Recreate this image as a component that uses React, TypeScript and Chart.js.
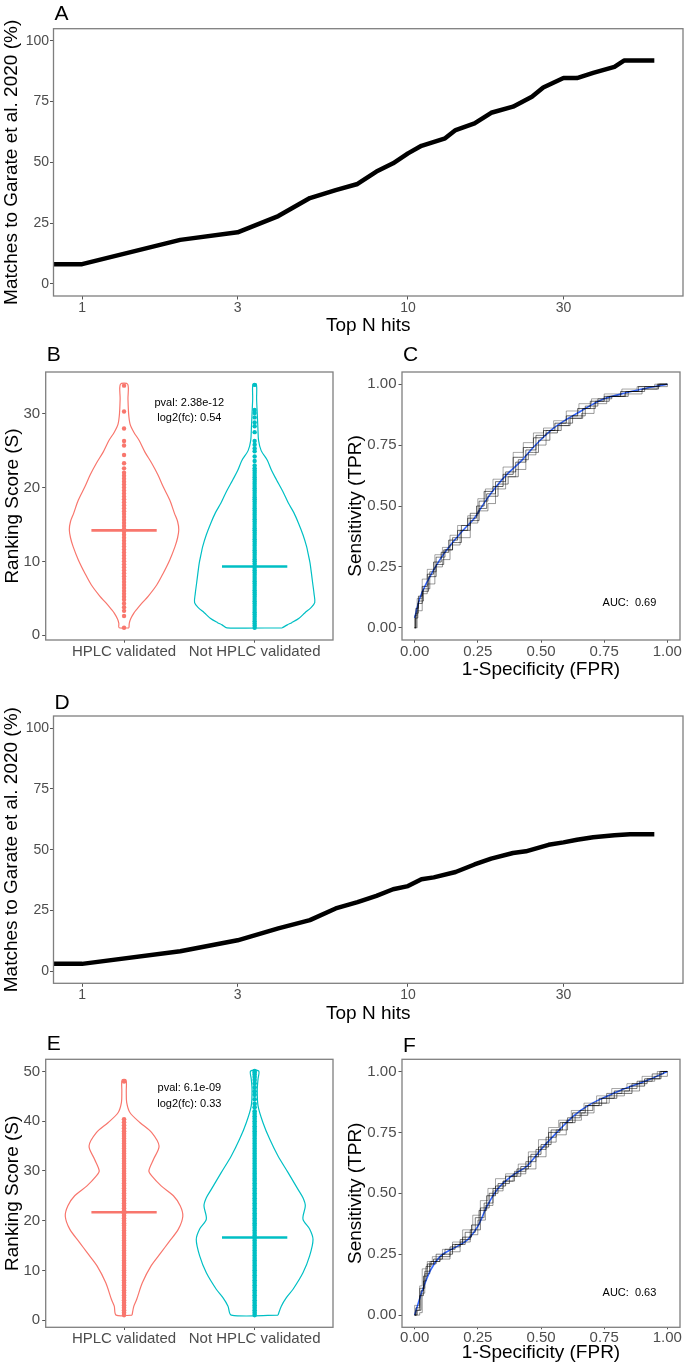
import React, { useEffect, useRef } from 'react';
import { Chart, registerables } from 'chart.js';
Chart.register(...registerables);

const FONT = '"Liberation Sans", Arial, Helvetica, sans-serif';
const TICK_COLOR = '#4D4D4D';
const BOX_COLOR = '#7F7F7F';
const RED = '#F8766D';
const TEAL = '#00BFC4';
const BLUE = '#3366FF';

// ---------- Panels A and D: matches vs top N hits ----------
const LOG_TICKS = [1, 3, 10, 30];
const PCT_TICKS = [0, 25, 50, 75, 100];
const A_TOPN = [0.817, 1, 2, 3, 4, 5, 6, 7, 8, 9, 10, 11, 13, 14, 16, 18, 21, 24, 26, 30, 33, 37, 43, 46, 57];
const A_MATCH = [8.1, 8.1, 18.1, 21.2, 27.9, 35.3, 38.6, 41.1, 46.2, 49.6, 53.7, 56.8, 59.9, 63.3, 66.0, 70.4, 72.9, 77.0, 80.8, 84.7, 84.7, 86.8, 89.3, 91.9, 91.9];
const D_TOPN = [0.817, 1, 2, 3, 4, 5, 6, 7, 8, 9, 10, 11, 12, 14, 16, 18, 21, 23, 27, 30, 33, 37, 43, 48, 57];
const D_MATCH = [3.0, 3.0, 8.2, 12.7, 17.6, 21.0, 25.8, 28.4, 31.0, 33.7, 35.0, 37.8, 38.6, 40.8, 43.9, 46.3, 48.6, 49.3, 52.0, 53.0, 54.1, 55.1, 55.9, 56.3, 56.3];

// ---------- Panels B and E: violins ----------
const GROUPS = ['HPLC validated', 'Not HPLC validated'];
const B_TICKS = [0, 10, 20, 30];
const E_TICKS = [0, 10, 20, 30, 40, 50];
// [score, half-width in group units]
const B_HPLC_VIOLIN = [[1.0, 0.038], [1.6, 0.04], [2.2, 0.05], [3.0, 0.075], [3.5, 0.097], [4.4, 0.14], [5.3, 0.186], [6.8, 0.25], [8.4, 0.30], [10.2, 0.35], [12.0, 0.39], [13.2, 0.41], [14.3, 0.419], [15.4, 0.41], [16.5, 0.386], [18.3, 0.35], [20.1, 0.30], [21.7, 0.26], [23.3, 0.212], [24.8, 0.16], [26.4, 0.115], [27.5, 0.075], [28.6, 0.046], [30.0, 0.035], [32.0, 0.03], [34.0, 0.028]];
const B_NOT_VIOLIN = [[1.0, 0.212], [1.4, 0.25], [1.7, 0.284], [2.3, 0.34], [3.05, 0.386], [3.7, 0.43], [4.4, 0.46], [5.6, 0.455], [7.1, 0.444], [8.5, 0.434], [9.8, 0.424], [11.0, 0.41], [12.0, 0.398], [13.6, 0.37], [15.2, 0.335], [16.6, 0.30], [17.9, 0.258], [19.5, 0.215], [21.0, 0.169], [22.3, 0.13], [23.7, 0.097], [25.0, 0.05], [26.4, 0.03], [28.0, 0.025], [30.0, 0.02], [32.0, 0.015], [34.0, 0.013]];
const B_MEDIANS = [14.2, 9.3];
const B_HPLC_DOTS = [1.0, 2.6, 3.3, 3.8, 4.3, 4.8, 5.2, 5.6, 6.0, 6.4, 6.8, 7.2, 7.6, 8.0, 8.4, 8.8, 9.2, 9.6, 10.0, 10.4, 10.8, 11.2, 11.6, 12.0, 12.4, 12.8, 13.2, 13.6, 14.0, 14.4, 14.8, 15.2, 15.6, 16.0, 16.4, 16.8, 17.2, 17.6, 18.0, 18.4, 18.8, 19.2, 19.6, 20.0, 20.4, 20.8, 21.2, 21.6, 22.0, 22.6, 23.3, 24.4, 25.7, 26.3, 28.0, 30.3, 33.8];
const B_NOT_DOTS = [1.0, 1.3, 1.6, 1.9, 2.2, 2.5, 2.8, 3.1, 3.4, 3.7, 4.0, 4.3, 4.6, 4.9, 5.2, 5.5, 5.8, 6.1, 6.4, 6.7, 7.0, 7.3, 7.6, 7.9, 8.2, 8.5, 8.8, 9.1, 9.4, 9.7, 10.0, 10.3, 10.6, 10.9, 11.2, 11.5, 11.8, 12.1, 12.4, 12.7, 13.0, 13.3, 13.6, 13.9, 14.2, 14.5, 14.8, 15.1, 15.4, 15.7, 16.0, 16.3, 16.6, 16.9, 17.2, 17.5, 17.8, 18.1, 18.4, 18.7, 19.0, 19.3, 19.6, 19.9, 20.2, 20.5, 20.8, 21.1, 21.4, 21.7, 22.0, 22.3, 22.6, 23.0, 23.6, 24.2, 24.9, 25.3, 25.8, 26.3, 27.5, 28.3, 28.8, 29.5, 30.1, 30.5, 33.9];

const E_HPLC_VIOLIN = [[1.0, 0.061], [2.8, 0.075], [4.2, 0.097], [7.5, 0.14], [10.9, 0.207], [13.6, 0.284], [15.6, 0.34], [18.3, 0.416], [20.9, 0.45], [23.0, 0.43], [25.0, 0.378], [27.0, 0.284], [29.0, 0.212], [30.0, 0.19], [32.3, 0.225], [35.0, 0.268], [37.7, 0.212], [39.7, 0.123], [41.7, 0.046], [43.8, 0.02], [46.0, 0.017], [48.3, 0.015]];
const E_NOT_VIOLIN = [[1.0, 0.179], [2.8, 0.204], [4.5, 0.243], [6.2, 0.294], [9.5, 0.37], [12.9, 0.421], [16.2, 0.447], [18.3, 0.421], [20.3, 0.37], [23.0, 0.388], [24.6, 0.37], [26.3, 0.332], [29.7, 0.255], [33.0, 0.179], [36.4, 0.115], [39.7, 0.064], [43.1, 0.026], [46.4, 0.02], [48.5, 0.026], [50.1, 0.031]];
const E_MEDIANS = [21.7, 16.6];
const E_HPLC_DOTS = [1, 1.5, 2, 2.5, 3, 3.5, 4, 4.5, 5, 5.5, 6, 6.5, 7, 7.5, 8, 8.5, 9, 9.5, 10, 10.5, 11, 11.5, 12, 12.5, 13, 13.5, 14, 14.5, 15, 15.5, 16, 16.5, 17, 17.5, 18, 18.5, 19, 19.5, 20, 20.5, 21, 21.5, 22, 22.5, 23, 23.5, 24, 24.5, 25, 25.5, 26, 26.5, 27, 27.5, 28, 28.5, 29, 29.5, 30, 30.5, 31, 31.5, 32, 32.5, 33, 33.5, 34, 34.5, 35, 35.5, 36, 36.5, 37, 37.5, 38, 38.6, 39.2, 39.8, 40.4, 48.0];
const E_NOT_DOTS = [1, 1.5, 2, 2.5, 3, 3.5, 4, 4.5, 5, 5.5, 6, 6.5, 7, 7.5, 8, 8.5, 9, 9.5, 10, 10.5, 11, 11.5, 12, 12.5, 13, 13.5, 14, 14.5, 15, 15.5, 16, 16.5, 17, 17.5, 18, 18.5, 19, 19.5, 20, 20.5, 21, 21.5, 22, 22.5, 23, 23.5, 24, 24.5, 25, 25.5, 26, 26.5, 27, 27.5, 28, 28.5, 29, 29.5, 30, 30.5, 31, 31.5, 32, 32.5, 33, 33.5, 34, 34.5, 35, 35.5, 36, 36.5, 37, 37.5, 38, 38.5, 39, 39.5, 40, 40.5, 41, 41.5, 42, 42.8, 43.5, 44.4, 45.3, 46.0, 46.8, 47.6, 48.3, 48.9, 49.4, 49.8, 50.1];

// ---------- Panels C and F: ROC curves ----------
const ROC_TICKS = [0, 0.25, 0.5, 0.75, 1];
const C_SMOOTH = [[0, 0.04], [0.02, 0.12], [0.05, 0.19], [0.1, 0.28], [0.15, 0.35], [0.2, 0.41], [0.234, 0.447], [0.28, 0.52], [0.326, 0.584], [0.37, 0.635], [0.418, 0.681], [0.46, 0.73], [0.497, 0.77], [0.55, 0.82], [0.6, 0.855], [0.65, 0.885], [0.7, 0.915], [0.75, 0.94], [0.8, 0.955], [0.9, 0.98], [1, 1]];
const C_RUN1 = [[0, 0], [0.01, 0.08], [0.02, 0.13], [0.04, 0.17], [0.06, 0.22], [0.09, 0.27], [0.12, 0.31], [0.15, 0.36], [0.19, 0.40], [0.23, 0.45], [0.26, 0.50], [0.29, 0.56], [0.33, 0.58], [0.37, 0.63], [0.41, 0.70], [0.45, 0.74], [0.49, 0.78], [0.53, 0.81], [0.58, 0.84], [0.62, 0.87], [0.67, 0.90], [0.72, 0.93], [0.78, 0.95], [0.85, 0.97], [0.92, 0.99], [1, 1]];
const C_RUN2 = [[0, 0], [0.01, 0.05], [0.03, 0.12], [0.05, 0.20], [0.08, 0.24], [0.11, 0.30], [0.14, 0.33], [0.17, 0.38], [0.21, 0.42], [0.25, 0.46], [0.28, 0.53], [0.31, 0.57], [0.35, 0.61], [0.39, 0.66], [0.43, 0.72], [0.47, 0.76], [0.51, 0.80], [0.55, 0.82], [0.60, 0.85], [0.65, 0.89], [0.70, 0.92], [0.75, 0.94], [0.82, 0.96], [0.88, 0.98], [0.95, 0.99], [1, 1]];
const C_RUN3 = [[0, 0], [0.005, 0.04], [0.02, 0.10], [0.04, 0.15], [0.07, 0.21], [0.10, 0.26], [0.13, 0.32], [0.17, 0.35], [0.20, 0.42], [0.24, 0.44], [0.27, 0.49], [0.30, 0.55], [0.34, 0.60], [0.38, 0.64], [0.42, 0.68], [0.46, 0.73], [0.50, 0.79], [0.54, 0.80], [0.59, 0.83], [0.64, 0.86], [0.69, 0.90], [0.74, 0.93], [0.80, 0.95], [0.87, 0.97], [0.93, 0.98], [1, 1]];
const C_RUN4 = [[0, 0], [0.01, 0.07], [0.03, 0.14], [0.05, 0.18], [0.08, 0.25], [0.11, 0.28], [0.14, 0.34], [0.18, 0.37], [0.22, 0.43], [0.25, 0.48], [0.29, 0.51], [0.32, 0.57], [0.36, 0.62], [0.40, 0.65], [0.44, 0.71], [0.48, 0.75], [0.52, 0.81], [0.57, 0.83], [0.61, 0.86], [0.66, 0.88], [0.71, 0.92], [0.76, 0.95], [0.83, 0.96], [0.90, 0.98], [0.96, 0.99], [1, 1]];
const C_RUN5 = [[0, 0], [0.01, 0.06], [0.02, 0.11], [0.05, 0.16], [0.07, 0.23], [0.10, 0.29], [0.14, 0.32], [0.16, 0.37], [0.20, 0.40], [0.24, 0.47], [0.27, 0.52], [0.31, 0.54], [0.35, 0.59], [0.39, 0.62], [0.43, 0.69], [0.47, 0.72], [0.51, 0.77], [0.56, 0.81], [0.60, 0.84], [0.65, 0.87], [0.70, 0.91], [0.75, 0.94], [0.81, 0.95], [0.88, 0.97], [0.94, 0.99], [1, 1]];

const F_SMOOTH = [[0, 0], [0.03, 0.10], [0.063, 0.185], [0.10, 0.24], [0.155, 0.275], [0.21, 0.31], [0.25, 0.364], [0.286, 0.446], [0.326, 0.515], [0.392, 0.577], [0.444, 0.611], [0.5, 0.68], [0.562, 0.749], [0.628, 0.817], [0.694, 0.865], [0.75, 0.893], [0.825, 0.927], [0.917, 0.962], [1, 1]];
const F_RUN1 = [[0, 0], [0.02, 0.02], [0.03, 0.10], [0.04, 0.16], [0.06, 0.21], [0.09, 0.23], [0.13, 0.25], [0.17, 0.29], [0.21, 0.32], [0.24, 0.37], [0.27, 0.43], [0.30, 0.49], [0.34, 0.53], [0.38, 0.57], [0.43, 0.60], [0.47, 0.65], [0.51, 0.69], [0.55, 0.75], [0.60, 0.79], [0.65, 0.83], [0.70, 0.86], [0.76, 0.89], [0.82, 0.92], [0.88, 0.94], [0.94, 0.97], [1, 1]];
const F_RUN2 = [[0, 0], [0.02, 0.04], [0.03, 0.12], [0.05, 0.19], [0.07, 0.22], [0.11, 0.24], [0.15, 0.27], [0.19, 0.30], [0.23, 0.35], [0.26, 0.41], [0.29, 0.47], [0.32, 0.52], [0.36, 0.56], [0.41, 0.58], [0.45, 0.62], [0.49, 0.67], [0.53, 0.72], [0.57, 0.77], [0.62, 0.80], [0.67, 0.84], [0.72, 0.87], [0.78, 0.90], [0.84, 0.93], [0.90, 0.95], [0.96, 0.98], [1, 1]];
const F_RUN3 = [[0, 0], [0.01, 0.03], [0.03, 0.08], [0.04, 0.14], [0.05, 0.20], [0.08, 0.22], [0.12, 0.24], [0.16, 0.28], [0.20, 0.31], [0.24, 0.35], [0.28, 0.44], [0.31, 0.50], [0.35, 0.54], [0.40, 0.57], [0.44, 0.61], [0.48, 0.66], [0.52, 0.70], [0.56, 0.76], [0.61, 0.79], [0.66, 0.82], [0.71, 0.86], [0.77, 0.89], [0.83, 0.91], [0.89, 0.95], [0.95, 0.97], [1, 1]];
const F_RUN4 = [[0, 0], [0.02, 0.01], [0.03, 0.09], [0.04, 0.17], [0.06, 0.22], [0.10, 0.23], [0.14, 0.26], [0.18, 0.30], [0.22, 0.33], [0.25, 0.39], [0.28, 0.45], [0.31, 0.51], [0.35, 0.55], [0.39, 0.58], [0.44, 0.60], [0.48, 0.65], [0.52, 0.71], [0.56, 0.74], [0.60, 0.80], [0.66, 0.83], [0.71, 0.87], [0.77, 0.90], [0.83, 0.92], [0.89, 0.96], [0.95, 0.98], [1, 1]];
const F_RUN5 = [[0, 0], [0.01, 0.02], [0.03, 0.11], [0.05, 0.18], [0.07, 0.21], [0.10, 0.25], [0.14, 0.27], [0.18, 0.29], [0.22, 0.34], [0.26, 0.40], [0.29, 0.46], [0.33, 0.52], [0.37, 0.55], [0.42, 0.59], [0.46, 0.63], [0.50, 0.68], [0.54, 0.73], [0.58, 0.76], [0.63, 0.81], [0.68, 0.84], [0.73, 0.87], [0.79, 0.91], [0.85, 0.93], [0.91, 0.96], [0.97, 0.99], [1, 1]];

// ---------- geometry ----------
type Geo = { cx: number; cy: number; cw: number; ch: number; l: number; t: number; r: number; b: number };
const GEO: Record<string, Geo> = {
  A: { cx: 0, cy: 0, cw: 685, ch: 340, l: 53.5, t: 28.7, r: 683, b: 296 },
  B: { cx: 0, cy: 340, cw: 340, ch: 330, l: 45.7, t: 372, r: 333, b: 640 },
  C: { cx: 340, cy: 340, cw: 345, ch: 345, l: 402, t: 372, r: 680, b: 640 },
  D: { cx: 0, cy: 685, cw: 685, ch: 345, l: 53.5, t: 716, r: 683, b: 983.3 },
  E: { cx: 0, cy: 1030, cw: 340, ch: 341, l: 45.7, t: 1059.3, r: 333, b: 1327.3 },
  F: { cx: 340, cy: 1030, cw: 345, ch: 341, l: 402, t: 1059.3, r: 680, b: 1327.3 },
};

function decorPlugin(letter: string, letterY: number, notes: { text: string; x: number; y: number }[]) {
  return {
    id: 'decor',
    afterDatasetsDraw(chart: any) {
      const { ctx, chartArea: a } = chart;
      ctx.save();
      ctx.strokeStyle = BOX_COLOR;
      ctx.lineWidth = 1.3;
      ctx.strokeRect(a.left, a.top, a.right - a.left, a.bottom - a.top);
      ctx.fillStyle = '#000';
      ctx.textBaseline = 'middle';
      ctx.textAlign = 'left';
      ctx.font = `21px ${FONT}`;
      ctx.fillText(letter, a.left + 1, letterY);
      ctx.textAlign = 'center';
      ctx.font = `11px ${FONT}`;
      for (const n of notes) {
        ctx.fillText(n.text, chart.scales.x.getPixelForValue(n.x), chart.scales.y.getPixelForValue(n.y));
      }
      ctx.restore();
    },
  };
}

function axis(g: Geo, o: any) {
  const horizontal = o.pos === 'bottom';
  return {
    type: o.type || 'linear',
    position: o.pos,
    min: o.min,
    max: o.max,
    bounds: 'data',
    afterBuildTicks: (s: any) => { s.ticks = o.ticks.map((v: number) => ({ value: v })); },
    afterFit: (s: any) => {
      if (horizontal) s.height = g.cy + g.ch - g.b;
      else s.width = g.l - g.cx;
    },
    grid: { display: true, drawOnChartArea: false, drawTicks: true, tickLength: o.tl ?? 3.5, tickWidth: 1, tickColor: '#555', color: '#555' },
    border: { display: false },
    ticks: {
      color: TICK_COLOR,
      font: { family: FONT, size: o.tickSize || 15 },
      padding: o.pad ?? 1,
      autoSkip: false,
      maxRotation: 0,
      callback: o.fmt,
    },
    title: o.title
      ? { display: true, text: o.title, color: '#000', font: { family: FONT, size: 19 }, padding: horizontal ? { top: 0, bottom: o.titlePad } : { top: o.titlePad, bottom: 0 } }
      : { display: false },
  };
}

function baseConfig(g: Geo, datasets: any[], scales: any, plugin: any) {
  return {
    type: 'scatter',
    data: { datasets },
    options: {
      responsive: false,
      animation: false,
      events: [],
      devicePixelRatio: 1,
      layout: { padding: { left: 0, top: g.t - g.cy, right: g.cx + g.cw - g.r, bottom: 0 } },
      plugins: { legend: { display: false }, tooltip: { enabled: false }, title: { display: false } },
      scales,
    },
    plugins: [plugin],
  };
}

function hitsConfig(g: Geo, letter: string, letterY: number, ns: number[], vals: number[], xTitlePad: number) {
  const datasets = [{
    data: ns.map((n, i) => ({ x: n, y: vals[i] })),
    showLine: true, borderColor: '#000', borderWidth: 4.5, pointRadius: 0, tension: 0,
    borderJoinStyle: 'round',
  }];
  const scales = {
    x: axis(g, { type: 'logarithmic', pos: 'bottom', min: 0.817, max: 69.8, ticks: LOG_TICKS, tickSize: 14, tl: 3.5, pad: 0.3, fmt: (v: number) => String(v), title: 'Top N hits', titlePad: xTitlePad }),
    y: axis(g, { pos: 'left', min: -5, max: 105, ticks: PCT_TICKS, tickSize: 14, tl: 3.5, pad: 1, fmt: (v: number) => String(v), title: 'Matches to Garate et al. 2020 (%)', titlePad: 0.6 }),
  };
  return baseConfig(g, datasets, scales, decorPlugin(letter, letterY, []));
}

function violinPath(c: number, prof: number[][]) {
  const right = prof.map(([y, w]) => ({ x: c + w, y }));
  const left = prof.slice().reverse().map(([y, w]) => ({ x: c - w, y }));
  return [...right, ...left, right[0]];
}

function violinConfig(g: Geo, letter: string, letterY: number, violins: number[][][], dots: number[][], medians: number[], yMin: number, yMax: number, yTicks: number[], notes: any[], dotR: number) {
  const colors = [RED, TEAL];
  const datasets: any[] = [];
  violins.forEach((prof, i) => {
    datasets.push({ data: violinPath(i + 1, prof), showLine: true, borderColor: colors[i], borderWidth: 1.2, pointRadius: 0, tension: 0.3, fill: false });
  });
  dots.forEach((vals, i) => {
    datasets.push({ data: vals.map((v) => ({ x: i + 1, y: v })), showLine: false, pointRadius: dotR, pointBorderWidth: 0, backgroundColor: colors[i], borderColor: colors[i] });
  });
  medians.forEach((m, i) => {
    datasets.push({ data: [{ x: i + 0.75, y: m }, { x: i + 1.25, y: m }], showLine: true, borderColor: colors[i], borderWidth: 2.6, pointRadius: 0 });
  });
  const scales = {
    x: axis(g, { pos: 'bottom', min: 0.4, max: 2.6, ticks: [1, 2], tickSize: 15, tl: 2.7, pad: 0, fmt: (v: number) => GROUPS[Math.round(v) - 1] }),
    y: axis(g, { pos: 'left', min: yMin, max: yMax, ticks: yTicks, tickSize: 15, tl: 3.5, pad: 2, fmt: (v: number) => String(v), title: 'Ranking Score (S)', titlePad: 1.6 }),
  };
  return baseConfig(g, datasets, scales, decorPlugin(letter, letterY, notes));
}

function rocConfig(g: Geo, letter: string, letterY: number, runs: number[][][], smooth: number[][], auc: string, aucY: number, xTitlePad: number, xtl: number) {
  const greys = ['rgba(0,0,0,0.6)', 'rgba(0,0,0,0.35)', 'rgba(0,0,0,0.55)', 'rgba(0,0,0,0.4)', 'rgba(0,0,0,0.5)'];
  const steps = ['middle', 'after', 'middle', 'before', 'middle'];
  const datasets: any[] = runs.map((run, i) => ({
    data: run.map(([x, y]) => ({ x, y })), showLine: true, stepped: steps[i % steps.length], borderColor: greys[i % greys.length], borderWidth: 1, pointRadius: 0,
  }));
  datasets.push({ data: smooth.map(([x, y]) => ({ x, y })), showLine: true, borderColor: BLUE, borderWidth: 1.6, pointRadius: 0, cubicInterpolationMode: 'monotone' });
  const fmt = (v: number) => v.toFixed(2);
  const scales = {
    x: axis(g, { pos: 'bottom', min: -0.05, max: 1.05, ticks: ROC_TICKS, tickSize: 15, tl: xtl, pad: 0, fmt, title: '1-Specificity (FPR)', titlePad: xTitlePad }),
    y: axis(g, { pos: 'left', min: -0.05, max: 1.05, ticks: ROC_TICKS, tickSize: 15, tl: 3.5, pad: 2, fmt, title: 'Sensitivity (TPR)', titlePad: 4.6 }),
  };
  return baseConfig(g, datasets, scales, decorPlugin(letter, letterY, [{ text: auc, x: 0.85, y: aucY }]));
}

function Panel({ g, make }: { g: Geo; make: () => any }) {
  const ref = useRef<HTMLCanvasElement>(null);
  useEffect(() => {
    const chart = new Chart(ref.current as HTMLCanvasElement, make());
    return () => chart.destroy();
  }, []);
  return (
    <canvas
      ref={ref}
      width={g.cw}
      height={g.ch}
      style={{ position: 'absolute', left: g.cx, top: g.cy, width: g.cw, height: g.ch }}
    />
  );
}

export default function App() {
  Chart.defaults.font.family = FONT;
  return (
    <div style={{ position: 'absolute', left: 0, top: 0, width: 685, height: 1371, background: '#fff', overflow: 'hidden' }}>
      <Panel g={GEO.A} make={() => hitsConfig(GEO.A, 'A', 14, A_TOPN, A_MATCH, 2.6)} />
      <Panel g={GEO.B} make={() => violinConfig(GEO.B, 'B', 15, [B_HPLC_VIOLIN, B_NOT_VIOLIN], [B_HPLC_DOTS, B_NOT_DOTS], B_MEDIANS, -0.65, 35.65, B_TICKS,
        [{ text: 'pval: 2.38e-12', x: 1.5, y: 31.4 }, { text: 'log2(fc): 0.54', x: 1.5, y: 29.4 }], 2.2)} />
      <Panel g={GEO.C} make={() => rocConfig(GEO.C, 'C', 15, [C_RUN1, C_RUN2, C_RUN3, C_RUN4, C_RUN5], C_SMOOTH, 'AUC:  0.69', 0.1, 3.6, 2.7)} />
      <Panel g={GEO.D} make={() => hitsConfig(GEO.D, 'D', 18, D_TOPN, D_MATCH, 4.6)} />
      <Panel g={GEO.E} make={() => violinConfig(GEO.E, 'E', 14, [E_HPLC_VIOLIN, E_NOT_VIOLIN], [E_HPLC_DOTS, E_NOT_DOTS], E_MEDIANS, -1.45, 52.45, E_TICKS,
        [{ text: 'pval: 6.1e-09', x: 1.5, y: 46.6 }, { text: 'log2(fc): 0.33', x: 1.5, y: 43.4 }], 2.3)} />
      <Panel g={GEO.F} make={() => rocConfig(GEO.F, 'F', 16, [F_RUN1, F_RUN2, F_RUN3, F_RUN4, F_RUN5], F_SMOOTH, 'AUC:  0.63', 0.09, 6.6, 2.0)} />
    </div>
  );
}
